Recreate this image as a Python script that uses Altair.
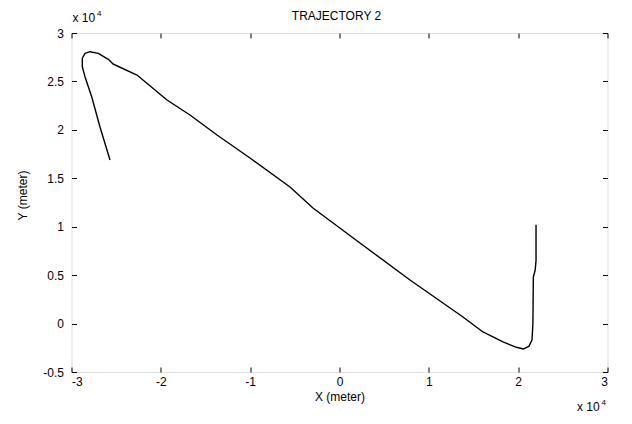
import altair as alt
import pandas as pd

# trajectory (units of 1e4 meters)
xs = [-2.569, -2.681, -2.774, -2.849, -2.879, -2.879, -2.849, -2.793, -2.700, -2.588,
      -2.535, -2.267, -1.931, -1.674, -1.371, -1.002, -0.554, -0.297, 0.229, 0.789,
      1.382, 1.606, 1.830, 1.98, 2.06, 2.12, 2.155, 2.165, 2.17, 2.19, 2.20, 2.20]
ys = [1.689, 2.030, 2.342, 2.549, 2.652, 2.739, 2.790, 2.807, 2.790, 2.728,
      2.680, 2.566, 2.308, 2.153, 1.947, 1.709, 1.410, 1.193, 0.832, 0.450,
      0.068, -0.087, -0.190, -0.245, -0.262, -0.235, -0.17, 0.0, 0.48, 0.55, 0.65, 1.02]
x_ticks = [-3, -2, -1, 0, 1, 2, 3]
y_ticks = [-0.5, 0, 0.5, 1, 1.5, 2, 2.5, 3]

df = pd.DataFrame({"x": xs, "y": ys, "i": list(range(len(xs)))})

FONT = "Liberation Sans"
W, H = 536, 339

xscale = alt.Scale(domain=[-3, 3], nice=False, zero=False)
yscale = alt.Scale(domain=[-0.5, 3], nice=False, zero=False)

common_axis = dict(grid=False, domain=False, tickColor="black", tickSize=5, offset=-5,
                   labelFont=FONT, labelFontSize=12, labelColor="black",
                   labelExpr="datum.value + ''",
                   titleFont=FONT, titleFontSize=12, titleFontWeight="normal", titleColor="black")

line = alt.Chart(df).mark_line(color="black", strokeWidth=1.4, strokeJoin="round").encode(
    x=alt.X("x:Q", scale=xscale,
            axis=alt.Axis(orient="bottom", values=x_ticks, labelPadding=4,
                          title="X (meter)", titlePadding=4, **common_axis)),
    y=alt.Y("y:Q", scale=yscale,
            axis=alt.Axis(orient="left", values=y_ticks, labelPadding=8,
                          title="Y (meter)", titlePadding=13, titleY=162, **common_axis)),
    order="i:Q",
)

frame_axes = alt.Chart(df).mark_line(opacity=0).encode(
    x=alt.X("x:Q", scale=xscale,
            axis=alt.Axis(orient="top", values=x_ticks, labels=False, title=None, **common_axis)),
    y=alt.Y("y:Q", scale=yscale,
            axis=alt.Axis(orient="right", values=y_ticks, labels=False, title=None, **common_axis)),
    order="i:Q",
)

blank = alt.Data(values=[{}])
def txt(t, x, y, size, align="left"):
    return alt.Chart(blank).mark_text(align=align, baseline="alphabetic", font=FONT,
                                      fontSize=size, color="black").encode(
        x=alt.value(x), y=alt.value(y), text=alt.value(t))

ann = (txt("TRAJECTORY 2", W / 2 - 3, -13, 12, "center")
       + txt("x 10", 1, -11, 12) + txt("4", 25.5, -17, 8)
       + txt("x 10", 505.5, 378, 12) + txt("4", 530, 372, 8))

chart = alt.layer(line, frame_axes, ann).resolve_axis(
    x="independent", y="independent"
).properties(
    width=W, height=H,
    autosize=alt.AutoSizeParams(type="none"),
    padding={"left": 63.5, "top": 25, "right": 16.5, "bottom": 44},
).configure_view(stroke="black", strokeWidth=1).configure(background="white")

chart.save("out.html", embed_options={"renderer": "svg", "actions": False})
